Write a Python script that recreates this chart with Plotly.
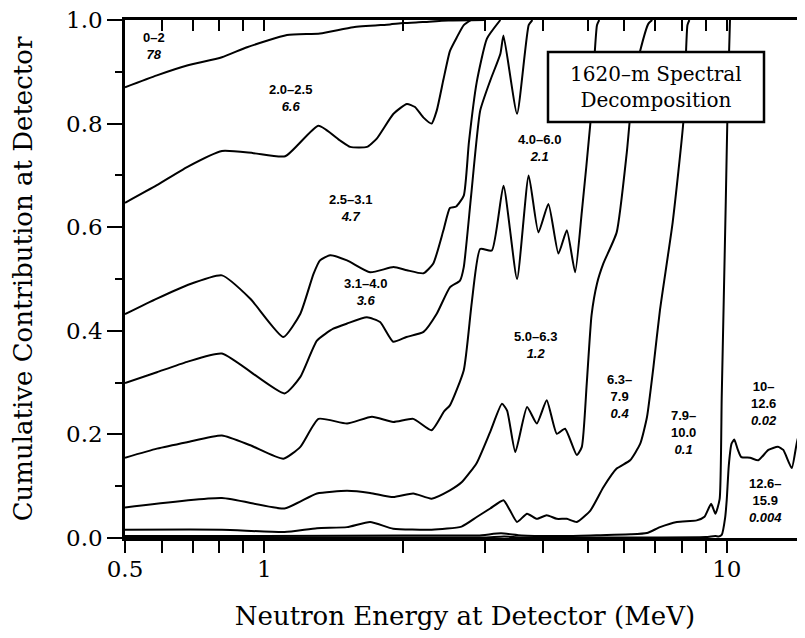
import numpy as np
import plotly.graph_objects as go

# ---------------- data (energy in MeV, cumulative fraction) ----------------
e_a = [0.5, 0.586, 0.681, 0.81, 0.918, 1.12, 1.32, 1.557, 1.87, 2.0, 2.2, 2.5, 3.0]
v_a = [0.870, 0.893, 0.912, 0.928, 0.9475, 0.971, 0.974, 0.986, 0.9915, 0.994, 0.996, 0.999, 1.0]

e_b = [0.5, 0.586, 0.681, 0.81, 0.948, 1.11, 1.31, 1.46, 1.534, 1.667, 1.751, 1.903,
       2.034, 2.118, 2.207, 2.30, 2.36, 2.44, 2.52, 2.61, 2.70, 2.80]
v_b = [0.647, 0.681, 0.716, 0.747, 0.743, 0.737, 0.796, 0.767, 0.755, 0.755, 0.771, 0.819,
       0.838, 0.832, 0.812, 0.800, 0.825, 0.885, 0.940, 0.967, 0.990, 1.0]

e_c = [0.5, 0.586, 0.681, 0.81, 0.933, 1.10, 1.197, 1.278, 1.32, 1.388, 1.51, 1.694, 1.903,
       2.034, 2.21, 2.32, 2.44, 2.52, 2.60, 2.70, 2.77, 2.88, 3.03, 3.24]
v_c = [0.432, 0.462, 0.488, 0.507, 0.462, 0.388, 0.433, 0.510, 0.536, 0.546, 0.536, 0.513, 0.523,
       0.517, 0.511, 0.530, 0.594, 0.637, 0.640, 0.661, 0.764, 0.880, 0.964, 1.0]

e_d = [0.5, 0.586, 0.681, 0.81, 1.106, 1.197, 1.30, 1.41, 1.51, 1.667, 1.78, 1.90, 2.03, 2.21,
       2.36, 2.52, 2.65, 2.70, 2.80, 2.93, 3.08, 3.24, 3.29, 3.52, 3.73, 3.80]
v_d = [0.299, 0.320, 0.340, 0.356, 0.279, 0.311, 0.381, 0.404, 0.414, 0.426, 0.417, 0.379, 0.388, 0.398,
       0.433, 0.484, 0.497, 0.523, 0.660, 0.825, 0.883, 0.935, 0.970, 0.819, 0.990, 1.0]

e_e = [0.5, 0.586, 0.681, 0.81, 0.933, 1.10, 1.197, 1.31, 1.51, 1.71, 1.90, 2.10, 2.30, 2.45, 2.52,
       2.70, 2.81, 2.93, 3.105, 3.29, 3.52, 3.73, 3.915, 4.115, 4.325, 4.51, 4.70, 4.86, 5.07, 5.24, 5.30]
v_e = [0.155, 0.1725, 0.185, 0.198, 0.179, 0.153, 0.176, 0.230, 0.221, 0.234, 0.224, 0.230, 0.208, 0.245, 0.256,
       0.324, 0.455, 0.558, 0.555, 0.680, 0.500, 0.700, 0.590, 0.645, 0.549, 0.594, 0.513, 0.630, 0.800, 0.990, 1.0]

e_f = [0.5, 0.81, 1.106, 1.30, 1.51, 1.694, 1.90, 2.10, 2.30, 2.52, 2.675, 2.88, 3.08, 3.265, 3.35, 3.49,
       3.70, 3.885, 4.08, 4.29, 4.47, 4.74, 4.86, 4.98, 5.10, 5.24, 5.41, 5.78, 6.08, 6.28, 6.50, 6.77, 6.90]
v_f = [0.059, 0.077, 0.057, 0.086, 0.091, 0.087, 0.079, 0.086, 0.076, 0.092, 0.108, 0.145, 0.205, 0.259, 0.246, 0.166,
       0.253, 0.221, 0.266, 0.201, 0.211, 0.160, 0.176, 0.298, 0.430, 0.491, 0.530, 0.590, 0.745, 0.877, 0.941, 0.993, 1.0]

e_g = [0.5, 0.81, 1.106, 1.30, 1.51, 1.694, 1.90, 2.30, 2.67, 2.88, 3.08, 3.29, 3.40, 3.52, 3.70, 3.885,
       4.08, 4.29, 4.51, 4.74, 5.07, 5.41, 5.78, 6.18, 6.50, 6.72, 6.94, 7.17, 7.64, 8.06, 8.22, 8.30]
v_g = [0.016, 0.016, 0.0116, 0.019, 0.021, 0.031, 0.018, 0.016, 0.022, 0.0405, 0.057, 0.073, 0.053, 0.031, 0.047, 0.037,
       0.044, 0.037, 0.037, 0.031, 0.053, 0.098, 0.134, 0.150, 0.182, 0.233, 0.330, 0.440, 0.610, 0.806, 0.990, 1.0]

e_h = [0.5, 1.0, 2.0, 2.9, 3.25, 3.6, 4.5, 5.5, 6.2, 6.72, 7.17, 7.80, 8.61, 8.95, 9.25, 9.45, 9.65,
       9.75, 9.85, 9.95, 10.05, 10.16]
v_h = [0.004, 0.004, 0.005, 0.005, 0.009, 0.005, 0.004, 0.006, 0.007, 0.0095, 0.021, 0.031, 0.034, 0.041, 0.066, 0.047, 0.075,
       0.270, 0.460, 0.650, 0.850, 1.0]

e_i = [0.5, 2.0, 3.0, 3.3, 3.6, 5.0, 9.0, 9.45, 9.6, 9.75, 9.92, 10.0, 10.1, 10.24, 10.38, 10.55, 10.75,
       11.23, 11.7, 12.3, 12.9, 13.25, 13.82, 14.28, 14.76]
v_i = [0.001, 0.001, 0.001, 0.003, 0.001, 0.001, 0.002, 0.004, 0.003, 0.006, 0.040, 0.075, 0.140, 0.182, 0.190, 0.172, 0.156,
       0.155, 0.150, 0.170, 0.176, 0.170, 0.135, 0.197, 0.145]

curves = [(e_a, v_a), (e_b, v_b), (e_c, v_c), (e_d, v_d), (e_e, v_e),
          (e_f, v_f), (e_g, v_g), (e_h, v_h), (e_i, v_i)]

# region labels: energy range, percent, label centre (energy, fraction)
label_ranges = [["0–2"], ["2.0–2.5"], ["2.5–3.1"], ["3.1–4.0"], ["4.0–6.0"], ["5.0–6.3"],
                ["6.3–", "7.9"], ["7.9–", "10.0"], ["10–", "12.6"], ["12.6–", "15.9"]]
label_pcts = ["78", "6.6", "4.7", "3.6", "2.1", "1.2", "0.4", "0.1", "0.02", "0.004"]
label_e = [0.578, 1.138, 1.534, 1.653, 3.93, 3.85, 5.85, 8.05, 12.05, 12.11]
label_v = [0.950, 0.850, 0.638, 0.475, 0.752, 0.372, 0.273, 0.204, 0.259, 0.073]

x_major = [0.5, 1, 10]
x_minor = [0.6, 0.7, 0.8, 0.9, 2, 3, 4, 5, 6, 7, 8, 9]
E_MIN, E_MAX = 0.5, 14.76

box_lines = ["1620–m Spectral", "Decomposition"]
x_title = "Neutron Energy at Detector (MeV)"
y_title = "Cumulative Contribution at Detector"

SERIF = "DejaVu Serif"
SANS = "Liberation Sans, Arial, sans-serif"

# the page body adds an 8 px offset; the figure is sized so the plot area lands where the reference has it
PAGE_OFF = 8
W, H = 805 - PAGE_OFF, 638 - PAGE_OFF
ML, MT, MB = 125 - PAGE_OFF, 20 - PAGE_OFF, 100
PW, PH = W - ML, H - MT - MB

fig = go.Figure()
for ex, vy in curves:
    fig.add_trace(go.Scatter(x=ex, y=vy, mode="lines",
                             line=dict(color="black", width=2, shape="spline", smoothing=0.5),
                             hoverinfo="skip", showlegend=False))

# helper trace so that the top axis is drawn
fig.add_trace(go.Scatter(x=[None], y=[None], xaxis="x2", yaxis="y", mode="lines",
                         showlegend=False, hoverinfo="skip"))

tickvals = sorted(x_major + x_minor)
ticktext = [("%g" % t) if t in x_major else "" for t in tickvals]

xr = [np.log10(E_MIN), np.log10(E_MAX)]
fig.update_layout(
    width=W, height=H,
    margin=dict(l=ML, r=0, t=MT, b=MB),
    paper_bgcolor="white", plot_bgcolor="white",
    showlegend=False,
    xaxis=dict(type="log", range=xr, tickvals=tickvals, ticktext=ticktext,
               ticks="outside", ticklen=12, tickwidth=1.5, tickcolor="black",
               showline=True, linewidth=2.5, linecolor="black",
               showgrid=False, zeroline=False, automargin=False,
               tickfont=dict(family=SERIF, size=23, color="black"),
               ticklabelstandoff=-3, ticklabeloverflow="allow",
               title=dict(text=x_title, font=dict(family=SERIF, size=26, color="black"), standoff=26)),
    xaxis2=dict(type="log", range=xr, overlaying="x", side="top", anchor="y",
                tickvals=tickvals, ticks="inside", ticklen=11, tickwidth=1.5, tickcolor="black",
                showticklabels=False, showline=True, linewidth=2.5, linecolor="black",
                showgrid=False, zeroline=False, automargin=False),
    yaxis=dict(range=[0, 1], dtick=0.2, tick0=0, tickformat=".1f",
               ticks="outside", ticklen=15, tickwidth=1.5, tickcolor="black",
               minor=dict(dtick=0.1, ticks="outside", ticklen=7, tickwidth=1.5, tickcolor="black"),
               showline=True, linewidth=2.5, linecolor="black",
               showgrid=False, zeroline=False, automargin=False,
               tickfont=dict(family=SERIF, size=23, color="black"),
               ticklabelstandoff=0, ticklabeloverflow="allow",
               title=dict(text=y_title, font=dict(family=SERIF, size=26, color="black"), standoff=26)),
)

# region labels
for rng, pct, le, lv in zip(label_ranges, label_pcts, label_e, label_v):
    lines = ["<b>%s</b>" % r for r in rng] + ["<b><i>%s</i></b>" % pct]
    fig.add_annotation(x=np.log10(le), y=lv, xref="x", yref="y", text="<br>".join(lines),
                       showarrow=False, xanchor="center", yanchor="middle", align="center",
                       font=dict(family=SANS, size=13, color="black"))

# title box (reference pixel frame -> paper fractions)
def px_x(p):
    return (p - 125) / PW

def px_y(p):
    return (538 - p) / PH

fig.add_shape(type="rect", xref="paper", yref="paper",
              x0=px_x(548), x1=px_x(764), y0=px_y(122), y1=px_y(52),
              line=dict(color="black", width=2.5), fillcolor="white", layer="above")
fig.add_annotation(xref="paper", yref="paper", x=px_x(656), y=px_y(87),
                   text="<br>".join(box_lines), showarrow=False,
                   xanchor="center", yanchor="middle", align="center",
                   font=dict(family=SERIF, size=20, color="black"))

fig.write_html("out.html")
